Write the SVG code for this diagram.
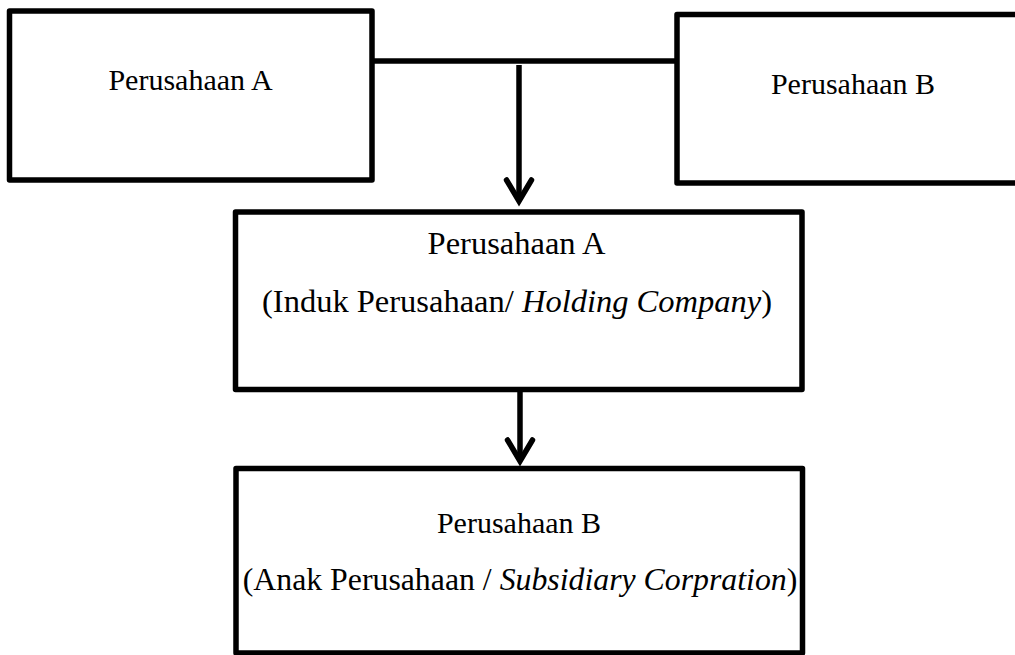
<svg xmlns="http://www.w3.org/2000/svg" width="1015" height="655" viewBox="0 0 1015 655">
<style>
.box{fill:#fff;stroke:#000;stroke-width:5.5;stroke-linejoin:round}
.conn{fill:none;stroke:#000;stroke-width:5.5}
.t{font-family:"Liberation Serif","Times New Roman",serif;font-size:30px;fill:#000;text-anchor:middle}
.big{font-size:32.5px}
.mid{font-size:31.8px}
.i{font-style:italic}
</style>
<defs>
<marker id="arr" markerUnits="userSpaceOnUse" orient="auto" refX="0" refY="0" markerWidth="30" markerHeight="30" overflow="visible">
<path d="M -21 -12.5 L 0 0 L -21 12.5" fill="none" stroke="#000" stroke-width="5.5" stroke-linecap="round" stroke-linejoin="miter"/>
</marker>
</defs>
<rect width="1015" height="655" fill="#fff"/>
<g id="connectors">
<line class="conn" x1="372" y1="61" x2="677" y2="61"/>
<line class="conn" x1="519" y1="65" x2="519" y2="201" marker-end="url(#arr)"/>
<line class="conn" x1="520" y1="392" x2="520" y2="461" marker-end="url(#arr)"/>
</g>
<g id="node-a">
<rect class="box" x="9.5" y="11" width="362.5" height="169"/>
<text class="t" x="190.5" y="90">Perusahaan A</text>
</g>
<g id="node-b">
<rect class="box" x="677" y="14.5" width="350" height="168.5"/>
<text class="t" x="853" y="94">Perusahaan B</text>
</g>
<g id="node-holding">
<rect class="box" x="235.5" y="212" width="566.5" height="177.5"/>
<text class="t big" x="516.5" y="254">Perusahaan A</text>
<text class="t big" x="517" y="312">(Induk Perusahaan/ <tspan class="i">Holding Company</tspan>)</text>
</g>
<g id="node-subsidiary">
<rect class="box" x="236" y="468.5" width="566.5" height="184.5"/>
<text class="t" x="519" y="533">Perusahaan B</text>
<text class="t mid" x="520" y="590">(Anak Perusahaan / <tspan class="i">Subsidiary Corpration</tspan>)</text>
</g>
</svg>
